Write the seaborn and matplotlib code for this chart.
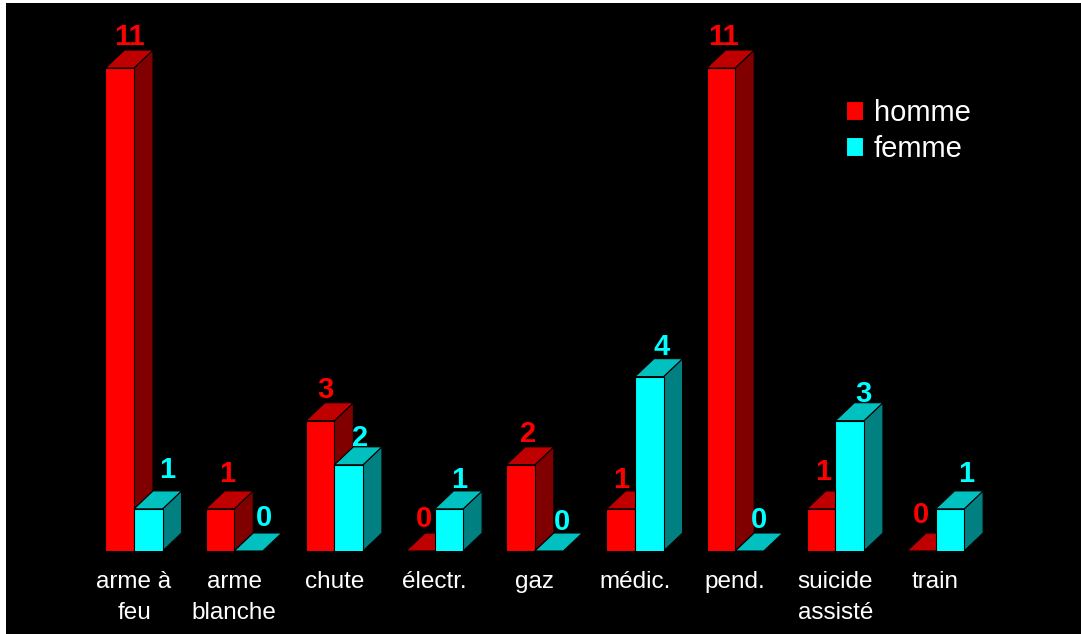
import matplotlib
matplotlib.use("Agg")
import matplotlib.pyplot as plt
from matplotlib.patches import Polygon, Rectangle
import pandas as pd
import seaborn as sns

categories = ["arme à\nfeu", "arme\nblanche", "chute", "électr.", "gaz", "médic.", "pend.", "suicide\nassisté", "train"]
homme = [11, 1, 3, 0, 2, 1, 11, 1, 0]
femme = [1, 0, 2, 1, 0, 4, 0, 3, 1]

# label nudges in pixels (horizontal, vertical) from the bar centre / back top edge
homme_nudge = [(10, 13), (7, 17), (5, 13), (4, 14), (8, 13), (0, 11), (3, 13), (2, 19), (0, 18)]
femme_nudge = [(19, 21), (16, 15), (11, 9), (10, 11), (13, 11), (12, 12), (10, 13), (14, 9), (16, 17)]

W, H = 1081, 634
PX_X, PX_Y = 100.2, 44.09
sns.set_theme(style="dark", rc={"font.family": ["Liberation Sans", "DejaVu Sans"]})
fig = plt.figure(figsize=(W / 100, H / 100), dpi=100, facecolor="white")
fig.add_artist(Rectangle((6 / W, 0), 1 - 6 / W, 1 - 3 / H, transform=fig.transFigure,
                         facecolor="black", edgecolor="none", zorder=-10))

ax = fig.add_axes([6 / W, (H - 551) / H, (W - 6) / W, (551 - 3) / H])
ax.set_facecolor("none")

df = pd.DataFrame({
    "cat": categories * 2,
    "val": homme + femme,
    "sexe": ["homme"] * len(homme) + ["femme"] * len(femme),
})
sns.barplot(data=df, x="cat", y="val", hue="sexe", palette=["#FF0000", "#00FFFF"], saturation=1,
            width=0.57, gap=0, edgecolor="black", linewidth=0.8, ax=ax, errorbar=None)

floor = 2 / PX_Y  # the value axis starts just above zero
ax.set_xlim((6 - 134) / PX_X, (W - 134) / PX_X)
ax.set_ylim(floor, floor + (551 - 3) / PX_Y)
ax.set_xlabel("")
ax.set_ylabel("")
ax.set_yticks([])
ax.grid(False)
for s in ax.spines.values():
    s.set_visible(False)
ax.tick_params(axis="x", length=0, pad=14.5, colors="white", labelsize=17.5)
for t in ax.get_xticklabels():
    t.set_linespacing(1.5)

dx, dy = 19 / PX_X, 18 / PX_Y
styles = [("#FF0000", "#C00000", "#800000", homme_nudge), ("#00FFFF", "#00C0C0", "#008080", femme_nudge)]
for j, (front, top, side, nudge) in enumerate(styles):
    for i, p in enumerate(ax.containers[j]):
        x0, x1, h = p.get_x(), p.get_x() + p.get_width(), p.get_height()
        lvl = max(h, floor)
        z = 3 + i + j * 0.4
        p.set_zorder(z + 0.1)
        if h > 0:
            ax.add_patch(Polygon([(x1, floor), (x1 + dx, floor + dy), (x1 + dx, lvl + dy), (x1, lvl)], closed=True,
                                 facecolor=side, edgecolor="black", linewidth=0.8, zorder=z))
        ax.add_patch(Polygon([(x0, lvl), (x1, lvl), (x1 + dx, lvl + dy), (x0 + dx, lvl + dy)], closed=True,
                             facecolor=top, edgecolor="black", linewidth=0.8, zorder=z))
        ax.annotate(str(int(h)), ((x0 + x1) / 2, lvl + dy), xytext=nudge[i], textcoords="offset pixels",
                    ha="center", va="center", color=front, fontsize=21, fontweight="bold", zorder=50)

sns.move_legend(ax, loc="upper left", bbox_to_anchor=((840 - 6) / (W - 6), 1 - 90 / 548),
                title=None, frameon=False, fontsize=21, labelcolor="white", handlelength=0.6,
                handleheight=0.6, handletextpad=0.35, labelspacing=0.27, borderpad=0.2, borderaxespad=0)

fig.savefig("out.png", dpi=100, facecolor="white")
